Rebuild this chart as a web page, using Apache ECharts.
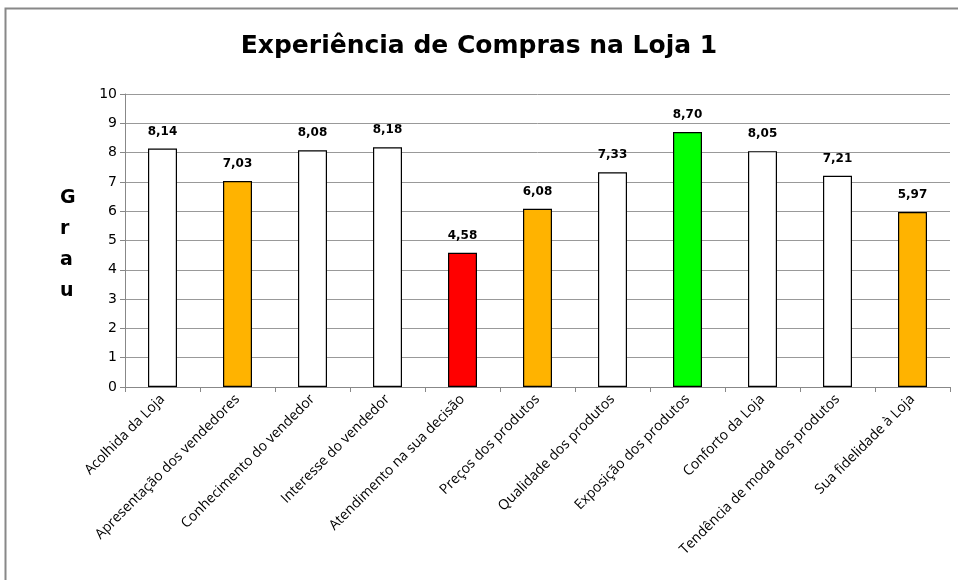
<!DOCTYPE html>
<html><head><meta charset="utf-8">
<script src="https://cdn.jsdelivr.net/npm/echarts@6/dist/echarts.min.js"></script>
<style>html,body{margin:0;padding:0;background:#fff}#c{width:958px;height:580px}</style>
</head><body><div id="c"></div>
<script>
const categories = ["Acolhida da Loja","Apresentação dos vendedores","Conhecimento do vendedor","Interesse do vendedor","Atendimento na sua decisão","Preços dos produtos","Qualidade dos produtos","Exposição dos produtos","Conforto da Loja","Tendência de moda dos produtos","Sua fidelidade à Loja"];
const values = [8.14,7.03,8.08,8.18,4.58,6.08,7.33,8.70,8.05,7.21,5.97];
const barColors = ["#FFFFFF","#FFB300","#FFFFFF","#FFFFFF","#FF0000","#FFB300","#FFFFFF","#00FF00","#FFFFFF","#FFFFFF","#FFB300"];
const yTicks = [0,1,2,3,4,5,6,7,8,9,10];

const chart = echarts.init(document.getElementById('c'));
chart.setOption({
  animation:false,
  backgroundColor:'#fff',
  graphic:[{type:'rect',shape:{x:5.5,y:8.5,width:960,height:580},style:{fill:'none',stroke:'#888',lineWidth:2}},
    {type:'text',left:60,top:183,style:{text:'G\nr\na\nu',font:'bold 19px "DejaVu Sans"',fill:'#000',lineHeight:31,align:'center'}}],
  title:{text:'Experiência de Compras na Loja 1',left:'center',top:29,textStyle:{fontFamily:'DejaVu Sans',fontWeight:'bold',fontSize:25,color:'#000'}},
  grid:{left:125,right:8,top:94,bottom:193},
  xAxis:{type:'category',data:categories,
    axisLine:{lineStyle:{color:'#888'}},
    axisTick:{show:true,length:5,lineStyle:{color:'#888'}},
    axisLabel:{interval:0,rotate:45,fontFamily:'Open Sans',fontSize:14,color:'#000',margin:10}},
  yAxis:{type:'value',min:0,max:10,interval:1,
    axisLine:{show:true,lineStyle:{color:'#888'}},
    axisTick:{show:true,length:5,lineStyle:{color:'#888'}},
    splitLine:{lineStyle:{color:'#999'}},
    axisLabel:{fontFamily:'DejaVu Sans',fontSize:14,color:'#000',margin:8,
      formatter:v=>yTicks.includes(v)?String(v):''}},
  series:[{type:'bar',barWidth:29,
    data:values.map((v,i)=>({value:v,itemStyle:{color:barColors[i]}})),
    itemStyle:{borderColor:'#000',borderWidth:1.2},
    label:{show:true,position:'top',distance:11,fontFamily:'DejaVu Sans',fontWeight:'bold',fontSize:12,color:'#000',
      formatter:p=>p.value.toFixed(2).replace('.',',')}}]
});
</script></body></html>
